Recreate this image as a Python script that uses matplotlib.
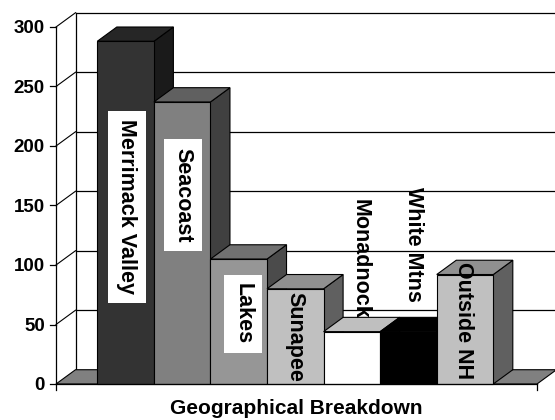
import matplotlib
matplotlib.use("Agg")
import matplotlib.pyplot as plt
from matplotlib.patches import Polygon
from matplotlib.colors import to_rgb

# data
regions = ['Merrimack Valley', 'Seacoast', 'Lakes', 'Sunapee', 'Monadnock', 'White Mtns', 'Outside NH']
counts = [288, 237, 105, 80, 44, 44, 92]
yticks = [0, 50, 100, 150, 200, 250, 300]
xlabel = 'Geographical Breakdown'

# styles
front_cols = ['#333333', '#808080', '#969696', '#c0c0c0', '#ffffff', '#000000', '#c0c0c0']
label_x = [0.525, 1.515, 2.576, 3.495, 4.644, 5.581, 6.482]
label_y = [149, 159, 59, 39.5, 105, 117.6, 53.4]
label_box = [True, True, True, False, False, False, False]

plt.rcParams['font.family'] = ['Liberation Sans', 'DejaVu Sans']
plt.rcParams['font.weight'] = 'bold'

fig = plt.figure(figsize=(5.55, 4.2), dpi=100)
ax = fig.add_axes([0, 0, 1, 1])
# pixel mapping: x_px = 97.3 + 56.57*x ; y_px = 384 - 1.19*v
ax.set_xlim((0 - 97.3) / 56.57, (555 - 97.3) / 56.57)
ax.set_ylim((384 - 420) / 1.19, 384 / 1.19)
ax.axis('off')

dx = 0.345   # depth offset in x units
dy = 12.0    # depth offset in value units
x_front_l = (56 - 97.3) / 56.57
x_front_r = (537 - 97.3) / 56.57
top = yticks[-1]
k = 'black'

# side wall gridlines and back wall gridlines
for t in yticks[1:]:
    ax.plot([x_front_l, x_front_l + dx], [t, t + dy], color=k, lw=0.8, zorder=1)
    ax.plot([x_front_l + dx, x_front_r + dx], [t + dy, t + dy], color=k, lw=0.9, zorder=1)
ax.plot([x_front_l + dx, x_front_l + dx], [dy, top + dy], color=k, lw=0.9, zorder=1)

# floor
floor = Polygon([(x_front_l, 0), (x_front_r, 0), (x_front_r + dx, dy), (x_front_l + dx, dy)],
                closed=True, facecolor='#808080', edgecolor=k, lw=0.8, zorder=2)
ax.add_patch(floor)

# bars, drawn left to right
for i, (v, c) in enumerate(zip(counts, front_cols)):
    r, g, b = to_rgb(c)
    top_c = (r * 0.75, g * 0.75, b * 0.75)
    side_c = (r * 0.5, g * 0.5, b * 0.5)
    z = 3 + i * 0.1
    side = Polygon([(i + 1, 0), (i + 1 + dx, dy), (i + 1 + dx, v + dy), (i + 1, v)],
                   closed=True, facecolor=side_c, edgecolor=k, lw=0.8, zorder=z)
    tp = Polygon([(i, v), (i + dx, v + dy), (i + 1 + dx, v + dy), (i + 1, v)],
                 closed=True, facecolor=top_c, edgecolor=k, lw=0.8, zorder=z)
    ax.add_patch(side)
    ax.add_patch(tp)
    ax.bar(i + 0.5, v, width=1, color=c, edgecolor=k, lw=0.8, zorder=z + 0.05)

# front y axis
ax.plot([x_front_l, x_front_l], [-5, top], color=k, lw=0.9, zorder=5)
ax.plot([x_front_r, x_front_r], [-5, 0], color=k, lw=0.9, zorder=5)
ax.plot([x_front_l, x_front_r], [0, 0], color=k, lw=0.9, zorder=5)
tick_len = 6 / 56.57
for t in yticks:
    ax.plot([x_front_l - tick_len, x_front_l], [t, t], color=k, lw=0.9, zorder=5)
    ax.text(x_front_l - tick_len - 0.09, t - 1.5, str(t), ha='right', va='center',
            fontsize=13.5, fontweight='bold')

# bar labels
for name, lx, ly, boxed in zip(regions, label_x, label_y, label_box):
    kw = {}
    if boxed:
        kw['bbox'] = dict(boxstyle='square,pad=0.4', facecolor='white', edgecolor='none')
    ax.text(lx, ly, name, rotation=270, ha='center', va='center',
            fontsize=15.5, fontweight='bold', zorder=10, **kw)

ax.text(3.52, -20.6, xlabel, ha='center', va='center', fontsize=15, fontweight='bold')

fig.savefig('out.png', dpi=100)
